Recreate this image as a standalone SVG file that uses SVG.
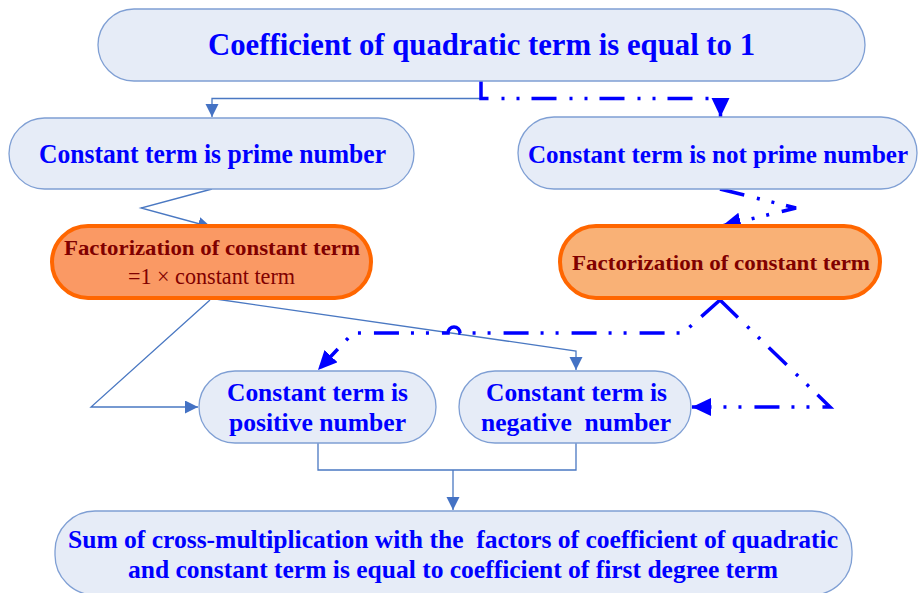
<svg xmlns="http://www.w3.org/2000/svg" width="918" height="593" viewBox="0 0 918 593">
<style>
.n{fill:#e6ecf7;stroke:#7f9fd4;stroke-width:1.3}
.o1{fill:#fa9964;stroke:#ff6600;stroke-width:4}
.o2{fill:#f9b176;stroke:#ff6600;stroke-width:4}
.t{font-family:"Liberation Serif","Times New Roman",serif;font-weight:bold;fill:#0000ff;text-anchor:middle}
.r{font-family:"Liberation Serif","Times New Roman",serif;fill:#800000;text-anchor:middle}
.thin{fill:none;stroke:#4a78c2;stroke-width:1.3}
.dd{fill:none;stroke:#0000ff;stroke-width:3.5;stroke-dasharray:25 13 3 12 3 12}
</style>
<defs>
<marker id="ta" markerUnits="userSpaceOnUse" markerWidth="14" markerHeight="14" refX="13" refY="6.5" orient="auto"><path d="M0,0 L13,6.5 L0,13 z" fill="#4472c4"/></marker>
<marker id="ba" markerUnits="userSpaceOnUse" markerWidth="20" markerHeight="20" refX="19" refY="9" orient="auto"><path d="M0,0 L19,9 L0,18 z" fill="#0000ff"/></marker>
</defs>
<g id="connectors">
<path class="thin" d="M481,98.5 H212 V117" marker-end="url(#ta)"/>
<path class="dd" d="M481,81 V98.5 H720.5 V117" marker-end="url(#ba)"/>
<path class="thin" d="M212,189 L141,208 L211,227" marker-end="url(#ta)"/>
<path class="dd" d="M720,189 L796,208 L722,226" marker-end="url(#ba)"/>
<path class="thin" d="M210,300 L91,407 H198" marker-end="url(#ta)"/>
<path class="thin" d="M212,298.5 L576,351 V370" marker-end="url(#ta)"/>
<path class="dd" d="M720,300 L683,333 H460 A6,6 0 0 0 448,333 H353 L318,370" marker-end="url(#ba)"/>
<path class="dd" d="M720,300 L830,407 H692" marker-end="url(#ba)"/>
<path class="thin" d="M318,443 V470 H576 V443"/>
<path class="thin" d="M453,470 V510" marker-end="url(#ta)"/>
</g>
<g id="node-top">
<rect class="n" x="98" y="9" width="767" height="72" rx="36"/>
<text class="t" x="481.5" y="55" font-size="32" textLength="547" lengthAdjust="spacingAndGlyphs">Coefficient of quadratic term is equal to 1</text>
</g>
<g id="node-prime">
<rect class="n" x="9" y="118" width="405" height="71" rx="35.5"/>
<text class="t" x="212.5" y="163" font-size="27" textLength="347" lengthAdjust="spacingAndGlyphs">Constant term is prime number</text>
</g>
<g id="node-notprime">
<rect class="n" x="518" y="117" width="399" height="72" rx="36"/>
<text class="t" x="718" y="163" font-size="25" textLength="380" lengthAdjust="spacingAndGlyphs">Constant term is not prime number</text>
</g>
<g id="node-fact1">
<rect class="o1" x="52" y="226" width="319" height="72" rx="36"/>
<text class="r" x="212" y="255" font-size="22" font-weight="bold" textLength="296" lengthAdjust="spacingAndGlyphs">Factorization of constant term</text>
<text class="r" x="211.5" y="284" font-size="23" textLength="167" lengthAdjust="spacingAndGlyphs">=1 × constant term</text>
</g>
<g id="node-fact2">
<rect class="o2" x="560" y="226" width="320" height="72" rx="36"/>
<text class="r" x="721" y="270" font-size="22" font-weight="bold" textLength="298" lengthAdjust="spacingAndGlyphs">Factorization of constant term</text>
</g>
<g id="node-positive">
<rect class="n" x="199" y="371" width="237" height="72" rx="36"/>
<text class="t" x="317.5" y="401" font-size="26" textLength="181" lengthAdjust="spacingAndGlyphs">Constant term is</text>
<text class="t" x="317.5" y="431" font-size="26" textLength="177" lengthAdjust="spacingAndGlyphs">positive number</text>
</g>
<g id="node-negative">
<rect class="n" x="459" y="371" width="232" height="72" rx="36"/>
<text class="t" x="576.5" y="401" font-size="26" textLength="181" lengthAdjust="spacingAndGlyphs">Constant term is</text>
<text class="t" x="576" y="431" font-size="26" textLength="190" lengthAdjust="spacingAndGlyphs" xml:space="preserve" style="white-space:pre">negative  number</text>
</g>
<g id="node-sum">
<rect class="n" x="55" y="511" width="797" height="84" rx="40"/>
<text class="t" x="453" y="548" font-size="26" textLength="770" lengthAdjust="spacingAndGlyphs" xml:space="preserve" style="white-space:pre">Sum of cross-multiplication with the  factors of coefficient of quadratic</text>
<text class="t" x="453" y="578" font-size="26" textLength="650" lengthAdjust="spacingAndGlyphs">and constant term is equal to coefficient of first degree term</text>
</g>
</svg>
